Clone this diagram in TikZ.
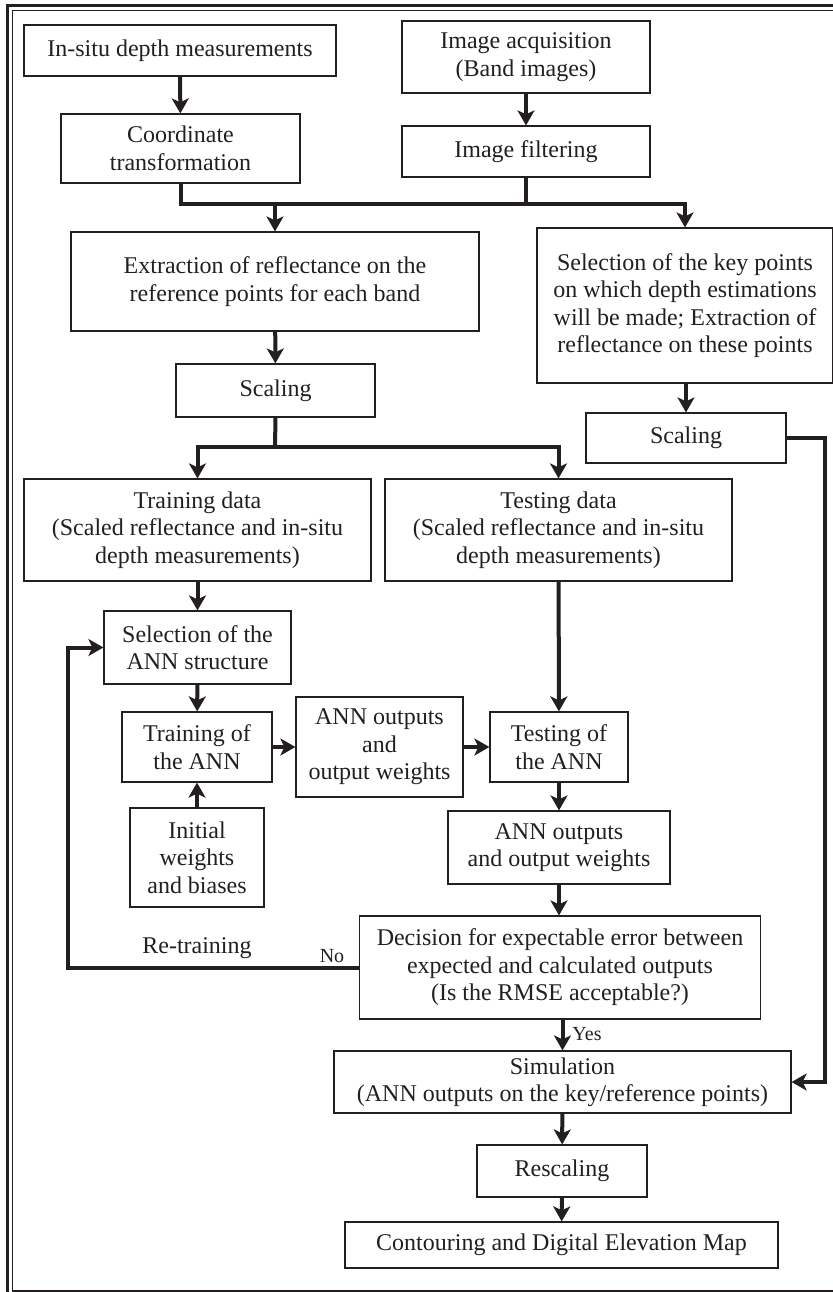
\documentclass[tikz,border=0pt]{standalone}
\usepackage{fontspec}
\setmainfont{Liberation Serif}
\usepackage{xcolor}
\usepackage{tikz}
\usetikzlibrary{arrows.meta, positioning}
\definecolor{ink}{HTML}{231F20}

\begin{document}
\begin{tikzpicture}[
			x=0.5pt, y=-0.5pt,
			every node/.style={text=ink, font=\fontsize{12}{13.75}\selectfont},
			box/.style={draw=ink, line width=0.6pt, rectangle, align=center, inner sep=0pt},
			label/.style={inner sep=0pt},
			small/.style={inner sep=0pt, font=\fontsize{10}{11}\selectfont},
			link/.style={draw=ink, line width=2pt},
			arrow/.style={-{Stealth[length=7.5pt, width=8.5pt, inset=2pt]}, draw=ink, line width=2pt}
			]
			\useasboundingbox (0,0) rectangle (833,1292);
			
			% Frame
			\draw [ink, line width=1.2pt] (7.5,5.5) rectangle (845,1300);
			\draw [ink, line width=0.6pt] (12.5,10.5) rectangle (838,1291);
			
			% Nodes
			\node (insitu) [box, minimum width=156pt, minimum height=25.5pt] at (180,50.5) {In-situ depth measurements};
			\node (coord) [box, minimum width=119.5pt, minimum height=34.5pt] at (180.5,148.5) {Coordinate\\transformation};
			\node (acq) [box, minimum width=124pt, minimum height=36pt] at (526,57) {Image acquisition\\(Band images)};
			\node (filt) [box, minimum width=124pt, minimum height=25.5pt] at (526,151.5) {Image filtering};
			\node (extract) [box, minimum width=204pt, minimum height=49.5pt] at (275,281.5) {Extraction of reflectance on the\\reference points for each band};
			\node (keypts) [box, minimum width=148pt, minimum height=77.5pt] at (685,305.5) {Selection of the key points\\on which depth estimations\\will be made; Extraction of\\reflectance on these points};
			\node (scale1) [box, minimum width=99.5pt, minimum height=26.5pt] at (275.5,390.5) {Scaling};
			\node (scale2) [box, minimum width=100pt, minimum height=25pt] at (686,438) {Scaling};
			\node (train) [box, minimum width=173.5pt, minimum height=51pt] at (197.5,530) {Training data\\(Scaled reflectance and in-situ\\depth measurements)};
			\node (test) [box, minimum width=173.5pt, minimum height=51pt] at (558.5,530) {Testing data\\(Scaled reflectance and in-situ\\depth measurements)};
			\node (selann) [box, minimum width=93.5pt, minimum height=36.5pt] at (197.5,647.5) {Selection of the\\ANN structure};
			\node (trann) [box, minimum width=75pt, minimum height=35pt] at (197,747) {Training of\\the ANN};
			\node (init) [box, minimum width=67pt, minimum height=49.5pt] at (197,857.5) {Initial\\weights\\and biases};
			\node (annout1) [box, minimum width=83.5pt, minimum height=50pt] at (379.5,747) {ANN outputs\\and\\output weights};
			\node (testann) [box, minimum width=69pt, minimum height=35pt] at (559,747) {Testing of\\the ANN};
			\node (annout2) [box, minimum width=111pt, minimum height=36.5pt] at (559,847.5) {ANN outputs\\and output weights};
			\node (decide) [box, minimum width=200.5pt, minimum height=51.5pt] at (560,967.5) {Decision for expectable error between\\expected and calculated outputs\\(Is the RMSE acceptable?)};
			\node (sim) [box, minimum width=228.5pt, minimum height=31pt] at (562.5,1082) {Simulation\\(ANN outputs on the key/reference points)};
			\node (rescale) [box, minimum width=85pt, minimum height=26pt] at (562,1171) {Rescaling};
			\node (dem) [box, minimum width=216.5pt, minimum height=23pt] at (561.5,1245) {Contouring and Digital Elevation Map};
			
			% Labels
			\node (retrain) [label] at (197,948) {Re-training};
			\node (no) [small] at (332,956) {No};
			\node (yes) [small] at (587,1034) {Yes};
			
			% Junctions
			\coordinate (j1) at (275,204);
			\coordinate (j2) at (275,447);
			\coordinate (rt) at (68,967.5);
			\coordinate (rl) at (825,438);
			
			% Connections
			\draw [arrow] (insitu) -- (coord);
			\draw [arrow] (acq) -- (filt);
			\draw [arrow] (coord.south) |- (keypts.north |- j1) -- (keypts.north);
			\draw [link] (filt.south) -- (filt.south |- j1);
			\draw [arrow] (j1) -- (extract.north);
			\draw [arrow] (extract) -- (scale1);
			\draw [arrow] (keypts.south -| scale2.north) -- (scale2.north);
			\draw [link] (scale1.south) -- (j2);
			\draw [arrow] (j2) -| (train.north);
			\draw [arrow] (j2) -| (test.north);
			\draw [arrow] (train) -- (selann);
			\draw [arrow] (selann) -- (trann);
			\draw [arrow] (init) -- (trann);
			\draw [arrow] (trann) -- (annout1);
			\draw [arrow] (annout1) -- (testann);
			\draw [arrow] (test) -- (testann);
			\draw [arrow] (testann) -- (annout2);
			\draw [arrow] (annout2) -- (decide.north -| annout2);
			\draw [arrow] (decide.west) -- (rt) |- (selann.west);
			\draw [arrow] (decide.south -| sim.north) -- (sim.north);
			\draw [arrow] (scale2.east) -- (rl) |- (sim.east);
			\draw [arrow] (sim) -- (rescale);
			\draw [arrow] (rescale) -- (dem);
			
		\end{tikzpicture}
\end{document}
